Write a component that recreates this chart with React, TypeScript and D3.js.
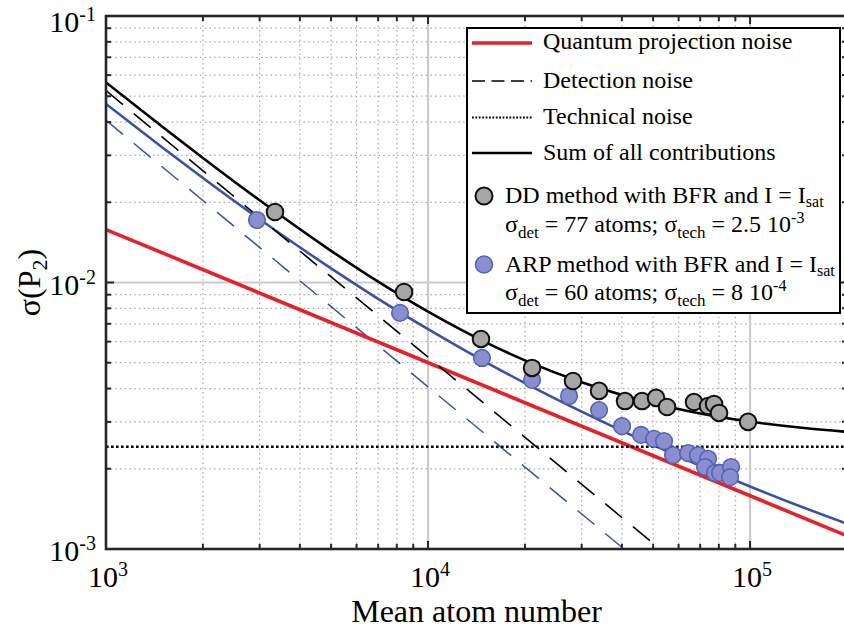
import React from 'react';
import * as d3 from 'd3';

const W = 844;
const H = 628;

const xDomain = [1e3, 2e5];
const yDomain = [1e-3, 1e-1];
const xMajorTicks = [1e3, 1e4, 1e5];
const yMajorTicks = [1e-3, 1e-2, 1e-1];

// DD method points (mean atom number, sigma(P2))
const ddN = [3348, 8425, 14605, 21040, 28200, 33970, 40910, 46190, 51070, 55240, 66990, 74060, 77310, 80120, 98580];
const ddSigma = [0.01839, 0.00921, 0.00614, 0.00478, 0.00427, 0.00392, 0.00359, 0.00359, 0.00369, 0.00341, 0.00356, 0.00344, 0.0035, 0.00324, 0.003];

// ARP method points
const arpN = [2943, 8185, 14710, 21040, 27410, 33970, 40040, 45860, 50340, 54070, 57660, 64200, 68940, 74060, 72470, 77860, 80700, 87310, 86690];
const arpSigma = [0.01716, 0.00769, 0.00521, 0.00431, 0.00375, 0.00332, 0.00289, 0.00268, 0.00259, 0.00254, 0.00225, 0.00229, 0.00225, 0.00218, 0.00203, 0.00193, 0.00193, 0.00203, 0.00186];

// Sum-of-contributions curves
const curveN = [1000, 1500, 2000, 3000, 5000, 7000, 10000, 15000, 20000, 30000, 50000, 70000, 100000, 150000, 200000];
const sumDD = [0.05632, 0.03833, 0.02933, 0.02034, 0.01315, 0.01007, 0.007772, 0.00599, 0.005103, 0.004222, 0.003524, 0.003227, 0.003007, 0.002837, 0.002752];
const sumARP = [0.04676, 0.03205, 0.02468, 0.01728, 0.0113, 0.008687, 0.006679, 0.005052, 0.004194, 0.003276, 0.002454, 0.002053, 0.001716, 0.001415, 0.001244];

// Straight noise contributions (end points)
const qpnN = [1e3, 2e5];
const qpnSigma = [0.0158, 0.00112];
const detDDN = [1e3, 5.25e4];
const detDDSigma = [0.0525, 0.001];
const detARPN = [1e3, 4.06e4];
const detARPSigma = [0.0406, 0.001];
const techN = [1e3, 2e5];
const techSigma = [0.00242, 0.00242];

const FONT = "'Liberation Serif', 'Times New Roman', serif";
const RED = '#e4222b';
const BLUE = '#3b51a3';
const AXIS = '#262626';

type Seg = { t: string; s?: 'sub' | 'sup' };

function RichText({ x, y, segs, size, subSize, supSize, subDy, supDy, anchor }: any) {
  const out: any[] = [];
  let shift = 0;
  segs.forEach((sg: Seg, i: number) => {
    let target = 0;
    let fs = size;
    if (sg.s === 'sub') { target = subDy; fs = subSize; }
    if (sg.s === 'sup') { target = -supDy; fs = supSize; }
    const dy = target - shift;
    shift = target;
    out.push(
      <tspan key={i} dy={dy} fontSize={fs}>{sg.t}</tspan>
    );
  });
  return (
    <text x={x} y={y} fontFamily={FONT} fontSize={size} fill="#000" textAnchor={anchor || 'start'}>
      {out}
    </text>
  );
}

export default function App() {
  const left = 106, right = 847, top = 16, bottom = 549;
  const x = d3.scaleLog().domain(xDomain).range([left, right]);
  const y = d3.scaleLog().domain(yDomain).range([bottom, top]);

  const xTicks = x.ticks();
  const yTicks = y.ticks();
  const isMajor = (v: number) => Math.abs(Math.log10(v) - Math.round(Math.log10(v))) < 1e-9;
  const xMinor = xTicks.filter((v) => !isMajor(v));
  const yMinor = yTicks.filter((v) => !isMajor(v));

  const lineGen = d3.line<[number, number]>().x((d) => x(d[0])).y((d) => y(d[1]));
  const curveGen = d3.line<[number, number]>().x((d) => x(d[0])).y((d) => y(d[1])).curve(d3.curveMonotoneX);
  const pts = (a: number[], b: number[]) => a.map((v, i) => [v, b[i]] as [number, number]);

  const lx = 472, lx2 = 532, tx = 543;

  return (
    <svg width={W} height={H} style={{ position: 'absolute', left: 0, top: 0, background: '#fff' }}>
      <defs>
        <clipPath id="plot">
          <rect x={left} y={top} width={right - left} height={bottom - top} />
        </clipPath>
      </defs>
      <rect x={0} y={0} width={W} height={H} fill="#fff" />

      {/* minor grid */}
      <g stroke="#a8a8a8" strokeWidth={1.2} strokeDasharray="1.5 3.2">
        {xMinor.map((v) => (
          <line key={'gx' + v} x1={x(v)} x2={x(v)} y1={top} y2={bottom} />
        ))}
        {yMinor.map((v) => (
          <line key={'gy' + v} x1={left} x2={right} y1={y(v)} y2={y(v)} />
        ))}
      </g>
      {/* major grid */}
      <g stroke="#cbcbcb" strokeWidth={2.2}>
        {xMajorTicks.slice(1).map((v) => (
          <line key={'Gx' + v} x1={x(v)} x2={x(v)} y1={top} y2={bottom} />
        ))}
        {yMajorTicks.slice(1, 2).map((v) => (
          <line key={'Gy' + v} x1={left} x2={right} y1={y(v)} y2={y(v)} />
        ))}
      </g>

      <g clipPath="url(#plot)" fill="none">
        <path d={lineGen(pts(detARPN, detARPSigma)) || ''} stroke={BLUE} strokeWidth={1.5} strokeDasharray="22 14" />
        <path d={curveGen(pts(curveN, sumARP)) || ''} stroke={BLUE} strokeWidth={2.6} />
        <path d={lineGen(pts(qpnN, qpnSigma)) || ''} stroke={RED} strokeWidth={3.6} />
        <path d={lineGen(pts(detDDN, detDDSigma)) || ''} stroke="#000" strokeWidth={1.6} strokeDasharray="22 14" />
        <path d={lineGen(pts(techN, techSigma)) || ''} stroke="#000" strokeWidth={2.6} strokeDasharray="2.6 2.4" />
        <path d={curveGen(pts(curveN, sumDD)) || ''} stroke="#000" strokeWidth={2.6} />
      </g>

      {/* markers */}
      <g>
        {arpN.map((n, i) => (
          <circle key={'a' + i} cx={x(n)} cy={y(arpSigma[i])} r={8.3} fill="#8a8ed0" stroke="#5564b3" strokeWidth={1.6} />
        ))}
        {ddN.map((n, i) => (
          <circle key={'d' + i} cx={x(n)} cy={y(ddSigma[i])} r={8.3} fill="#a6a6a6" stroke="#111" strokeWidth={2} />
        ))}
      </g>

      {/* axes frame and ticks */}
      <g stroke={AXIS} strokeWidth={2}>
        {xTicks.map((v) => {
          const L = isMajor(v) ? 8 : 5;
          return (
            <g key={'tx' + v}>
              <line x1={x(v)} x2={x(v)} y1={bottom} y2={bottom - L} />
              <line x1={x(v)} x2={x(v)} y1={top} y2={top + L} />
            </g>
          );
        })}
        {yTicks.map((v) => {
          const L = isMajor(v) ? 8 : 5;
          return (
            <g key={'ty' + v}>
              <line x1={left} x2={left + L} y1={y(v)} y2={y(v)} />
              <line x1={right} x2={right - L} y1={y(v)} y2={y(v)} />
            </g>
          );
        })}
      </g>
      <rect x={left} y={top} width={right - left} height={bottom - top} fill="none" stroke={AXIS} strokeWidth={2.6} />

      {/* tick labels */}
      {xMajorTicks.map((v) => (
        <text key={'lx' + v} x={x(v) + 2} y={587} fontFamily={FONT} fontSize={30} textAnchor="middle">
          <tspan>10</tspan>
          <tspan dy={-11} fontSize={20}>{String(Math.round(Math.log10(v)))}</tspan>
        </text>
      ))}
      {yMajorTicks.map((v) => (
        <text key={'ly' + v} x={96} y={Math.max(y(v) + 12, 32)} fontFamily={FONT} fontSize={30} textAnchor="end">
          <tspan>10</tspan>
          <tspan dy={-11} fontSize={20}>{String(Math.round(Math.log10(v)))}</tspan>
        </text>
      ))}

      {/* axis titles */}
      <text x={(left + right) / 2} y={622} fontFamily={FONT} fontSize={32} textAnchor="middle">Mean atom number</text>
      <text transform={`translate(40, ${(top + bottom) / 2}) rotate(-90)`} fontFamily={FONT} fontSize={32} textAnchor="middle">
        <tspan>σ(P</tspan>
        <tspan dy={7} fontSize={22}>2</tspan>
        <tspan dy={-7}>)</tspan>
      </text>

      {/* legend */}
      <rect x={467} y={28} width={373} height={285} fill="#fff" stroke="#000" strokeWidth={2} />
      <line x1={lx} x2={lx2} y1={43} y2={43} stroke={RED} strokeWidth={3.6} />
      <line x1={lx} x2={lx2} y1={81} y2={81} stroke="#000" strokeWidth={1.6} strokeDasharray="13 6.5" />
      <line x1={lx} x2={lx2} y1={117.5} y2={117.5} stroke="#000" strokeWidth={1.8} strokeDasharray="1.8 1.6" />
      <line x1={lx} x2={lx2} y1={153} y2={153} stroke="#000" strokeWidth={2.6} />
      <text x={tx} y={49} fontFamily={FONT} fontSize={24}>Quantum projection noise</text>
      <text x={tx} y={88} fontFamily={FONT} fontSize={24}>Detection noise</text>
      <text x={tx} y={124} fontFamily={FONT} fontSize={24}>Technical noise</text>
      <text x={tx} y={160} fontFamily={FONT} fontSize={24}>Sum of all contributions</text>

      <circle cx={484} cy={196} r={8.5} fill="#a6a6a6" stroke="#111" strokeWidth={2} />
      <RichText x={505} y={203} size={24} subSize={16} supSize={16} subDy={4} supDy={9}
        segs={[{ t: 'DD method with BFR and I = I' }, { t: 'sat', s: 'sub' }]} />
      <RichText x={505} y={232} size={24} subSize={17} supSize={16} subDy={6} supDy={9}
        segs={[{ t: 'σ' }, { t: 'det', s: 'sub' }, { t: ' = 77 atoms; σ' }, { t: 'tech', s: 'sub' }, { t: ' = 2.5 10' }, { t: '-3', s: 'sup' }]} />

      <circle cx={484} cy={264.5} r={8.5} fill="#8a8ed0" stroke="#5564b3" strokeWidth={1.6} />
      <RichText x={505} y={271.5} size={24} subSize={16} supSize={16} subDy={4} supDy={9}
        segs={[{ t: 'ARP method with BFR and I = I' }, { t: 'sat', s: 'sub' }]} />
      <RichText x={505} y={300} size={24} subSize={17} supSize={16} subDy={6} supDy={9}
        segs={[{ t: 'σ' }, { t: 'det', s: 'sub' }, { t: ' = 60 atoms; σ' }, { t: 'tech', s: 'sub' }, { t: ' = 8 10' }, { t: '-4', s: 'sup' }]} />
    </svg>
  );
}
